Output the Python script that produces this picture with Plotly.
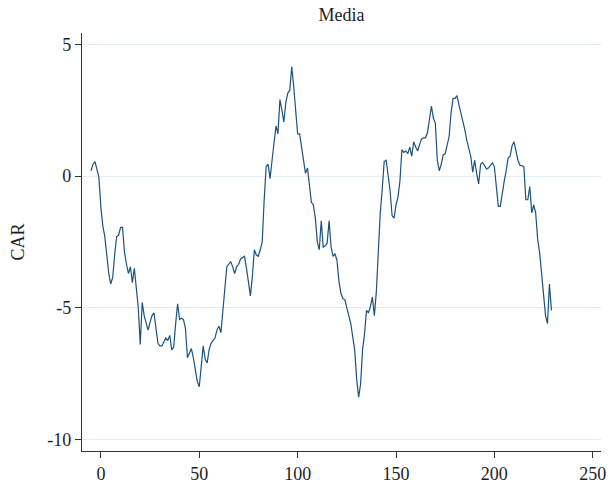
import plotly.graph_objects as go

# Event days and cumulative abnormal return (CAR) for the media sector
days = list(range(-5, 230))
car = [
    0.2, 0.45, 0.55, 0.25, -0.05,            # -5 .. -1
    -1.2, -1.9, -2.3, -3.0, -3.7,            # 0 .. 4
    -4.1, -3.85, -3.0, -2.3, -2.25,          # 5 .. 9
    -1.95, -1.95, -2.9, -3.35, -3.7,         # 10 .. 14
    -3.45, -4.05, -3.5, -4.25, -5.0,         # 15 .. 19
    -6.4, -4.8, -5.3, -5.6, -5.85,           # 20 .. 24
    -5.55, -5.3, -5.2, -5.85, -6.35,         # 25 .. 29
    -6.45, -6.45, -6.3, -6.15, -6.25,        # 30 .. 34
    -6.05, -6.6, -6.5, -5.6, -4.85,          # 35 .. 39
    -5.45, -5.4, -5.45, -5.8, -6.9,          # 40 .. 44
    -6.7, -6.55, -6.9, -7.3, -7.8,           # 45 .. 49
    -8.0, -7.3, -6.45, -6.95, -7.1,          # 50 .. 54
    -6.6, -6.35, -6.25, -6.15, -5.85,        # 55 .. 59
    -5.7, -5.95, -5.2, -4.3, -3.45,          # 60 .. 64
    -3.35, -3.25, -3.45, -3.7, -3.45,        # 65 .. 69
    -3.35, -3.15, -3.1, -3.05, -3.5,         # 70 .. 74
    -4.1, -4.55, -3.8, -2.8, -3.0,           # 75 .. 79
    -3.05, -2.8, -2.5, -0.9, 0.35,           # 80 .. 84
    0.45, -0.1, 0.6, 1.2, 1.9,               # 85 .. 89
    1.6, 2.9, 2.5, 2.05, 2.8,                # 90 .. 94
    3.15, 3.25, 4.15, 3.4, 2.5,              # 95 .. 99
    1.6, 1.6, 1.1, 0.6, 0.1,                 # 100 .. 104
    0.3, -0.45, -1.0, -1.1, -1.6,            # 105 .. 109
    -2.5, -2.8, -1.7, -2.7, -2.65,           # 110 .. 114
    -2.55, -1.7, -2.7, -3.05, -2.95,         # 115 .. 119
    -3.2, -4.0, -4.45, -4.65, -4.7,          # 120 .. 124
    -5.05, -5.3, -5.6, -6.05, -6.6,          # 125 .. 129
    -7.7, -8.4, -7.9, -6.6, -6.0,            # 130 .. 134
    -5.1, -5.2, -4.95, -4.6, -5.3,           # 135 .. 139
    -4.4, -2.6, -1.4, -0.5, 0.55,            # 140 .. 144
    0.6, 0.0, -0.55, -1.5, -1.6,             # 145 .. 149
    -1.1, -0.8, -0.2, 1.0, 0.9,              # 150 .. 154
    0.95, 0.85, 1.1, 0.75, 1.3,              # 155 .. 159
    1.1, 0.95, 1.2, 1.4, 1.45,               # 160 .. 164
    1.45, 1.65, 2.1, 2.65, 2.2,              # 165 .. 169
    2.0, 0.6, 0.2, 0.45, 0.8,                # 170 .. 174
    0.85, 1.2, 1.5, 2.4, 2.95,               # 175 .. 179
    2.95, 3.05, 2.7, 2.4, 2.15,              # 180 .. 184
    1.75, 1.35, 1.0, 0.75, 0.15,             # 185 .. 189
    0.6, 0.1, -0.3, 0.45, 0.52,              # 190 .. 194
    0.4, 0.27, 0.3, 0.42, 0.5,               # 195 .. 199
    0.35, -0.5, -1.15, -1.15, -0.6,          # 200 .. 204
    -0.2, 0.2, 0.68, 0.75, 1.15,             # 205 .. 209
    1.3, 0.95, 0.6, 0.4, 0.4,                # 210 .. 214
    0.35, -0.9, -0.9, -0.4, -1.4,            # 215 .. 219
    -1.1, -1.4, -2.4, -2.9, -3.7,            # 220 .. 224
    -4.5, -5.3, -5.6, -4.1, -5.1,            # 225 .. 229
]

x_ticks = [0, 50, 100, 150, 200, 250]
y_ticks = [5, 0, -5, -10]
y_tick_labels = ["5", "0", "-5", "-10"]

FONT = "Liberation Serif"
LINE = "#1c527c"
GRID = "#e2eef3"
TEXT = "#1e1e1e"

fig = go.Figure()
fig.add_trace(go.Scatter(
    x=days, y=car, mode="lines",
    line=dict(color=LINE, width=1.2),
    showlegend=False,
))

fig.update_layout(
    width=612, height=490,
    margin=dict(l=82, r=6, t=33, b=36),
    paper_bgcolor="white", plot_bgcolor="white",
    font=dict(family=FONT, size=18, color=TEXT),
    title=dict(text="Media", x=0.5, xref="paper", y=1 - 15 / 490,
               yref="container", yanchor="middle", xanchor="center",
               font=dict(family=FONT, size=18, color=TEXT)),
)

fig.update_xaxes(
    range=[-9.6, 254.2],
    tickmode="array", tickvals=x_ticks,
    ticks="outside", ticklen=6, tickcolor="#333333", tickwidth=1,
    showline=True, linecolor="#333333", linewidth=1.3,
    showgrid=False, zeroline=False,
    tickfont=dict(family=FONT, size=18),
)

fig.update_yaxes(
    range=[-10.44, 5.43],
    tickmode="array", tickvals=y_ticks, ticktext=y_tick_labels,
    ticks="outside", ticklen=6, tickcolor="#333333", tickwidth=1,
    showline=True, linecolor="#333333", linewidth=1.3,
    showgrid=True, gridcolor=GRID, gridwidth=1.2,
    zeroline=False,
    tickfont=dict(family=FONT, size=18),
    title=dict(text="CAR", standoff=17, font=dict(family=FONT, size=18)),
)

fig.write_html("out.html")
